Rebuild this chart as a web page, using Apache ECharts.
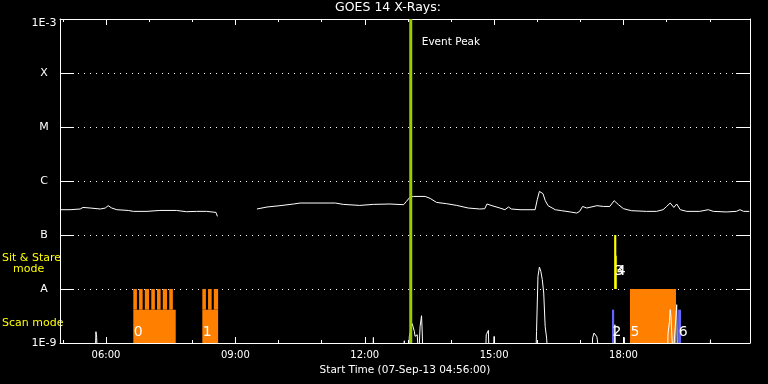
<!DOCTYPE html>
<html>
<head>
<meta charset="utf-8">
<script src="https://cdn.jsdelivr.net/npm/echarts@6/dist/echarts.min.js"></script>
<style>html,body{margin:0;padding:0;background:#000;}#c{width:768px;height:384px;}</style>
</head>
<body>
<div id="c"></div>
<script>
// ---- data ----
const titleText = 'GOES 14 X-Rays:';
const startLabel = 'Start Time (07-Sep-13 04:56:00)';
const axisStart = '04:56';
const axisEnd = '20:56';
const hourTicks = ['05:00','06:00','07:00','08:00','09:00','10:00','11:00','12:00','13:00','14:00','15:00','16:00','17:00','18:00','19:00','20:00'];
const majorTicks = ['06:00','09:00','12:00','15:00','18:00'];
const yTickValues = [1e-9, 1e-8, 1e-7, 1e-6, 1e-5, 1e-4, 1e-3];
const yTickLabels = ['1E-9', 'A', 'B', 'C', 'M', 'X', '1E-3'];

// GOES long channel (1-8 A)
const longTimes = ['04:57','05:10','05:24','05:28','05:38','05:52','05:59','06:03','06:08','06:15','06:31','06:38','06:57','07:15','07:38','07:52','08:06','08:20','08:33','08:35','09:00',
  '09:30','09:44','10:02','10:21','10:30','11:19','11:30','11:53','12:12','12:35','12:54','12:58','13:03','13:08','13:24','13:31','13:40','13:54','14:08','14:24','14:40','14:47','14:50','14:57',
  '15:08','15:15','15:20','15:24','15:36','15:57','16:00','16:03','16:08','16:11','16:15','16:25','16:34','16:46','16:55','16:59','17:03','17:09','17:23','17:32','17:41','17:47','17:53',
  '18:00','18:11','18:32','18:46','18:55','19:00','19:05','19:10','19:14','19:19','19:28','19:46','19:58','20:05','20:23','20:37','20:42','20:47','20:55'];
const longFlux = [2.94e-7,2.94e-7,3.03e-7,3.24e-7,3.16e-7,3.03e-7,3.16e-7,3.49e-7,3.16e-7,2.94e-7,2.85e-7,2.74e-7,2.74e-7,2.85e-7,2.85e-7,2.70e-7,2.74e-7,2.74e-7,2.62e-7,2.21e-7,null,
  3.03e-7,3.30e-7,3.49e-7,3.75e-7,3.91e-7,3.91e-7,3.69e-7,3.53e-7,3.69e-7,3.75e-7,3.64e-7,4.19e-7,5.05e-7,5.18e-7,5.18e-7,4.76e-7,4.01e-7,3.80e-7,3.53e-7,3.16e-7,3.03e-7,3.07e-7,3.75e-7,3.49e-7,
  3.16e-7,2.94e-7,3.30e-7,3.03e-7,2.94e-7,2.94e-7,4.50e-7,6.42e-7,5.82e-7,4.37e-7,3.49e-7,2.94e-7,2.82e-7,2.67e-7,2.55e-7,2.74e-7,3.38e-7,3.16e-7,3.49e-7,3.38e-7,3.38e-7,4.32e-7,3.64e-7,
  3.07e-7,2.82e-7,2.74e-7,2.74e-7,2.94e-7,3.38e-7,3.91e-7,3.24e-7,3.75e-7,2.94e-7,2.74e-7,2.74e-7,2.94e-7,2.74e-7,2.67e-7,2.74e-7,2.94e-7,2.74e-7,2.74e-7];

// GOES short channel (0.5-4 A), mostly below the plot floor
const shortTimes = ['04:56','05:45','05:46','05:47','05:48','12:11','12:12','12:13','12:54','12:55','12:56','13:01','13:02','13:06','13:09','13:10','13:13','13:15','13:17','13:19','13:20','13:21',
  '14:48','14:49','14:52','14:53','14:58','15:00','15:02','15:58','15:59','16:01','16:03','16:05','16:07','16:09','16:11','16:13','16:15',
  '17:16','17:17','17:19','17:21','17:23','17:25','17:27','17:47','17:48','17:49','18:00','18:01','18:02',
  '19:01','19:02','19:04','19:05','19:06','19:07','19:09','19:12','19:14','19:15','20:00','20:01','20:02','20:56'];
const shortFlux = [5e-10,5e-10,1.62e-9,1.27e-9,5e-10,5e-10,1.27e-9,5e-10,5e-10,1.10e-9,5e-10,5e-10,1.33e-9,2.28e-9,1.64e-9,1.33e-9,1.42e-9,5e-10,2.03e-9,3.20e-9,1.53e-9,5e-10,
  5e-10,1.42e-9,1.71e-9,5e-10,5e-10,1.33e-9,5e-10,5e-10,1.64e-9,1.71e-8,2.55e-8,2.12e-8,1.49e-8,8.43e-9,2.03e-9,1.24e-9,5e-10,
  5e-10,1.24e-9,1.53e-9,1.42e-9,1.30e-9,1.25e-9,5e-10,5e-10,2.18e-9,5e-10,5e-10,1.27e-9,5e-10,
  5e-10,1.53e-9,2.51e-9,4.14e-9,3.11e-9,1.64e-9,5e-10,2.03e-9,5.12e-9,5e-10,5e-10,1.15e-9,5e-10,5e-10];

// observation events
const eventLabels = ['0','1','2','3','4','5','6'];
const eventKinds  = ['scan','scan','flag','sas','sas','scan','flag'];
const eventStart  = ['06:38','08:14','17:44','17:47','17:50','18:09','19:16'];
const eventEnd    = ['07:37','08:36','17:47','17:50','17:51','19:13','19:20'];
const eventLow    = [1e-9,1e-9,1e-9,1e-8,1e-8,1e-9,1e-9];
const eventHigh   = [4.14e-9,4.14e-9,4.14e-9,1e-7,4.14e-8,1e-8,4.14e-9];
// individual scans within events 0 and 1
const scanStart = ['06:38','06:46','06:54','07:03','07:11','07:19','07:28','08:14','08:22','08:30'];
const scanEnd   = ['06:43','06:51','07:00','07:08','07:16','07:25','07:33','08:19','08:27','08:36'];
const scanLow   = [4.14e-9,4.14e-9,4.14e-9,4.14e-9,4.14e-9,4.14e-9,4.14e-9,4.14e-9,4.14e-9,4.14e-9];
const scanHigh  = [1e-8,1e-8,1e-8,1e-8,1e-8,1e-8,1e-8,1e-8,1e-8,1e-8];

const peakTime = '13:04';
const peakText = 'Event Peak';

// ---- styling / helpers ----
const FONT = 'DejaVu Sans';
const kindColor = {scan:'#ff8000', sas:'#ffff00', flag:'#6464ff'};
const labelLevel = {scan:1.56e-9, flag:1.56e-9, sas:2.14e-8};
const peakLabelLevel = 3.64e-4;
const toMin = s => { const p = s.split(':').map(Number); return p[0]*60 + p[1]; };
const fmt = v => { const h = Math.floor(v/60), m = Math.round(v - h*60); return String(h).padStart(2,'0') + ':' + String(m).padStart(2,'0'); };

const xMin = toMin(axisStart), xMax = toMin(axisEnd);
const longData = longTimes.map((t,i) => [toMin(t), longFlux[i]]);
const shortData = shortTimes.map((t,i) => [toMin(t), shortFlux[i]]);
const eventData = eventStart.map((t,i) => [toMin(t), toMin(eventEnd[i]), eventLow[i], eventHigh[i]]);
const scanData = scanStart.map((t,i) => [toMin(t), toMin(scanEnd[i]), scanLow[i], scanHigh[i]]);

function rectOf(api, color) {
  const p0 = api.coord([api.value(0), api.value(3)]);
  const p1 = api.coord([api.value(1), api.value(2)]);
  return {type:'rect', shape:{x:p0[0], y:p0[1], width:p1[0]-p0[0], height:p1[1]-p0[1]}, style:{fill:color}};
}

const baseX = {type:'value', min:xMin, max:xMax, splitLine:{show:false}};
const chart = echarts.init(document.getElementById('c'), null, {renderer:'canvas'});
chart.setOption({
  backgroundColor:'#000',
  animation:false,
  grid:{left:60, right:18, top:19, bottom:41, containLabel:false},
  xAxis:[
    Object.assign({}, baseX, {position:'bottom',
      axisLine:{show:true, lineStyle:{color:'#fff', width:1}},
      axisTick:{show:true, inside:true, length:3, customValues:hourTicks.map(toMin), lineStyle:{color:'#fff'}},
      axisLabel:{show:true, customValues:majorTicks.map(toMin), formatter:fmt, color:'#fff', fontSize:10, margin:7, fontFamily:FONT},
      name:startLabel, nameLocation:'middle', nameGap:21,
      nameTextStyle:{color:'#fff', fontSize:10.5, fontFamily:FONT}}),
    Object.assign({}, baseX, {position:'bottom',
      axisLine:{show:false},
      axisTick:{show:true, inside:true, length:6, customValues:majorTicks.map(toMin), lineStyle:{color:'#fff'}},
      axisLabel:{show:false}}),
    Object.assign({}, baseX, {position:'top',
      axisLine:{show:true, lineStyle:{color:'#fff', width:1}},
      axisTick:{show:true, inside:true, length:3, customValues:hourTicks.map(toMin), lineStyle:{color:'#fff'}},
      axisLabel:{show:false}}),
    Object.assign({}, baseX, {position:'top',
      axisLine:{show:false},
      axisTick:{show:true, inside:true, length:6, customValues:majorTicks.map(toMin), lineStyle:{color:'#fff'}},
      axisLabel:{show:false}})
  ],
  yAxis:[
    {type:'log', logBase:10, min:1e-9, max:1e-3, position:'left',
      axisLine:{show:true, lineStyle:{color:'#fff', width:1}},
      axisTick:{show:true, inside:true, length:14, lineStyle:{color:'#fff'}},
      axisLabel:{show:true, color:'#fff', fontSize:11, fontFamily:FONT, align:'center', margin:16,
        formatter: v => {
          const e = Math.round(Math.log10(v));
          const idx = yTickValues.findIndex(t => Math.round(Math.log10(t)) === e);
          const s = idx >= 0 ? yTickLabels[idx] : '';
          return idx === yTickValues.length - 1 ? '{top|' + s + '}' : s;
        },
        rich:{top:{color:'#fff', fontSize:11, fontFamily:FONT, padding:[8,0,0,0]}}},
      splitLine:{show:true, lineStyle:{color:'#fff', width:1, type:[1,5]}}},
    {type:'log', logBase:10, min:1e-9, max:1e-3, position:'right',
      axisLine:{show:true, lineStyle:{color:'#fff', width:1}},
      axisTick:{show:true, inside:true, length:14, lineStyle:{color:'#fff'}},
      axisLabel:{show:false}, splitLine:{show:false}}
  ],
  graphic:[
    {type:'text', x:388, y:8, style:{text:titleText, fill:'#fff', font:'12.5px ' + FONT, align:'center', verticalAlign:'middle'}},
    {type:'text', left:2, top:253, style:{text:'Sit & Stare', fill:'#ffff00', font:'11px ' + FONT}},
    {type:'text', left:13, top:264, style:{text:'mode', fill:'#ffff00', font:'11px ' + FONT}},
    {type:'text', left:2, top:318, style:{text:'Scan mode', fill:'#ffff00', font:'11px ' + FONT}}
  ],
  series:[
    {type:'custom', name:'scans', z:1, data:scanData, encode:{x:[0,1], y:[2,3]},
      renderItem:(params, api) => rectOf(api, kindColor.scan)},
    {type:'custom', name:'events', z:1, data:eventData, encode:{x:[0,1], y:[2,3]},
      renderItem:(params, api) => {
        const i = params.dataIndex, kind = eventKinds[i];
        const r = rectOf(api, kindColor[kind]);
        const lp = api.coord([api.value(0), labelLevel[kind]]);
        return {type:'group', children:[r,
          {type:'text', x:lp[0]+0.5, y:lp[1], z2:10,
            style:{text:eventLabels[i], fill:'#fff', font:'14px ' + FONT, align:'left', verticalAlign:'middle'}}]};
      }},
    {type:'line', name:'short', z:2, data:shortData, showSymbol:false, symbol:'none', clip:true,
      lineStyle:{color:'#fff', width:1}},
    {type:'line', name:'long', z:2, data:longData, showSymbol:false, symbol:'none', clip:true,
      lineStyle:{color:'#fff', width:1}},
    {type:'custom', name:'peak', z:3, data:[[toMin(peakTime), peakLabelLevel]], encode:{x:0, y:1},
      renderItem:(params, api) => {
        const p = api.coord([api.value(0), api.value(1)]);
        const cs = params.coordSys;
        return {type:'group', children:[
          {type:'rect', shape:{x:p[0]-1.5, y:cs.y, width:3, height:cs.height}, style:{fill:'#9acd00'}},
          {type:'text', x:p[0]+11, y:p[1], style:{text:peakText, fill:'#fff', font:'10.5px ' + FONT, align:'left', verticalAlign:'middle'}}
        ]};
      }}
  ]
});
</script>
</body>
</html>
